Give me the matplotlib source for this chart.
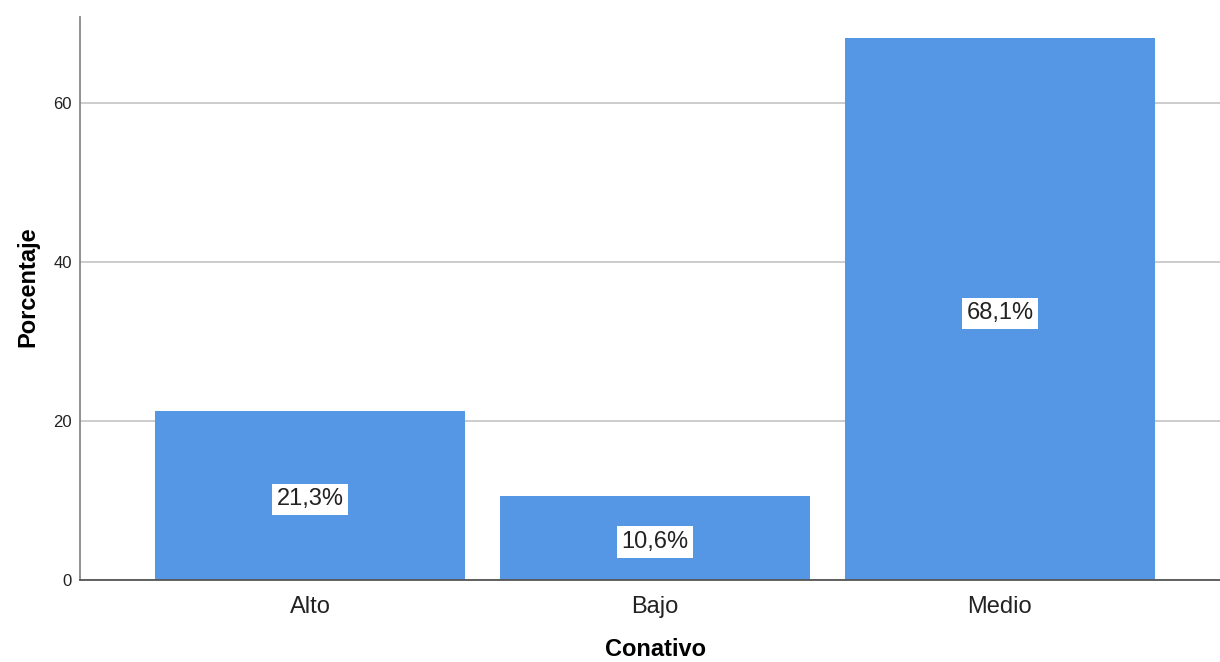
import matplotlib
matplotlib.use("Agg")
import matplotlib.pyplot as plt

categories = ["Alto", "Bajo", "Medio"]
values = [21.3, 10.6, 68.1]
labels = ["21,3%", "10,6%", "68,1%"]
yticks = [0, 20, 40, 60]

plt.rcParams['font.family'] = ['Liberation Sans', 'DejaVu Sans']

fig = plt.figure(figsize=(12.2, 6.62), dpi=100)
ax = fig.add_axes([80/1220, 1-580/662, 1-80/1220, (580-17)/662])

x = list(range(len(categories)))
ax.bar(x, values, width=0.9, color="#5596e5", zorder=2)
for xi, v, lab in zip(x, values, labels):
    ax.annotate(lab, xy=(xi, v/2), xytext=(0, -3), textcoords="offset points",
                ha="center", va="center", fontsize=17, color="#222222",
                bbox=dict(boxstyle="square,pad=0.2", facecolor="white", edgecolor="none"), zorder=3)

ax.set_xlim(-0.667, 2.638)
ax.set_ylim(0, 70.8)
ax.set_yticks(yticks)
ax.set_yticklabels([str(t) for t in yticks], fontsize=12)
ax.set_xticks(x)
ax.set_xticklabels(categories, fontsize=17)
ax.tick_params(axis="both", length=0, colors="#222222")
ax.tick_params(axis="x", pad=11.5)
ax.tick_params(axis="y", pad=6)
ax.yaxis.grid(True, color="#c8c8c8", linewidth=1.3, zorder=0)
ax.set_axisbelow(True)
for s in ["top", "right"]:
    ax.spines[s].set_visible(False)
ax.spines["left"].set_color("#888888")
ax.spines["left"].set_linewidth(1.3)
ax.spines["bottom"].set_color("#555555")
ax.spines["bottom"].set_linewidth(1.3)

ax.set_ylabel("Porcentaje", fontsize=17, fontweight="bold", va="center")
ax.set_xlabel("Conativo", fontsize=17, fontweight="bold", va="center")
ax.yaxis.set_label_coords(-52/1140, (580-287)/563)
ax.xaxis.set_label_coords((656-80)/1140, (580-649)/563)

fig.savefig("out.png", dpi=100)
